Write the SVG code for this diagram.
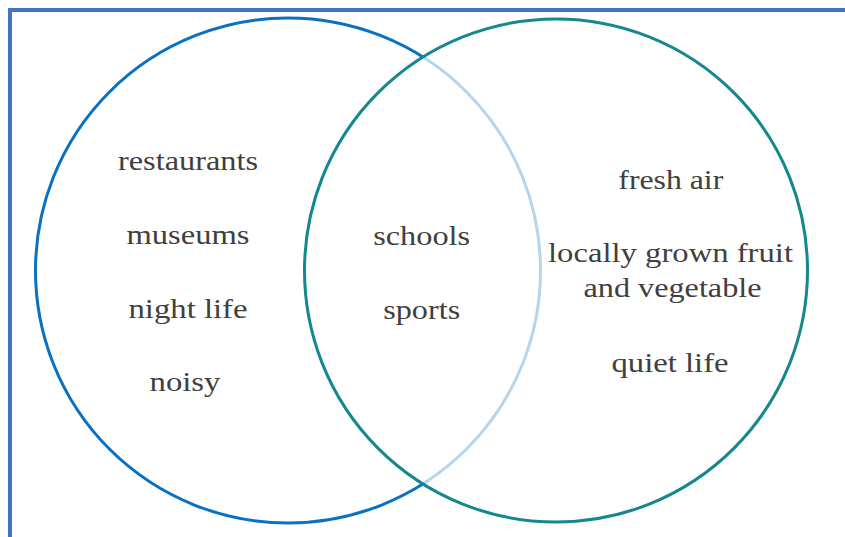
<svg xmlns="http://www.w3.org/2000/svg" width="845" height="537" viewBox="0 0 845 537">
<style>
  text { font-family: "Liberation Serif", "Times New Roman", serif; font-size: 28px; fill: #404040; text-anchor: middle; }
</style>
<rect x="0" y="0" width="845" height="537" fill="#ffffff"/>
<g id="frame">
  <rect x="10" y="10" width="900" height="600" fill="none" stroke="#4472C4" stroke-width="4"/>
</g>
<g id="connectors"></g>
<g id="circle-city">
  <circle cx="288" cy="270.5" r="252.5" fill="none" stroke="#0A70C2" stroke-width="3"/>
</g>
<g id="circle-country">
  <circle cx="556" cy="270.5" r="251.5" fill="#ffffff" fill-opacity="0.7" stroke="#14878F" stroke-width="3"/>
</g>
<g id="city-items">
  <text x="188" y="170" textLength="140" lengthAdjust="spacingAndGlyphs">restaurants</text>
  <text x="188" y="244" textLength="123" lengthAdjust="spacingAndGlyphs">museums</text>
  <text x="188" y="318" textLength="119" lengthAdjust="spacingAndGlyphs">night life</text>
  <text x="185" y="391" textLength="71" lengthAdjust="spacingAndGlyphs">noisy</text>
</g>
<g id="shared-items">
  <text x="421.7" y="245" textLength="97" lengthAdjust="spacingAndGlyphs">schools</text>
  <text x="421.7" y="318.5" textLength="77" lengthAdjust="spacingAndGlyphs">sports</text>
</g>
<g id="country-items">
  <text x="670.8" y="189" textLength="105" lengthAdjust="spacingAndGlyphs">fresh air</text>
  <text x="670.5" y="262" textLength="245" lengthAdjust="spacingAndGlyphs">locally grown fruit</text>
  <text x="672.5" y="297" textLength="178" lengthAdjust="spacingAndGlyphs">and vegetable</text>
  <text x="670" y="372" textLength="117" lengthAdjust="spacingAndGlyphs">quiet life</text>
</g>
</svg>
